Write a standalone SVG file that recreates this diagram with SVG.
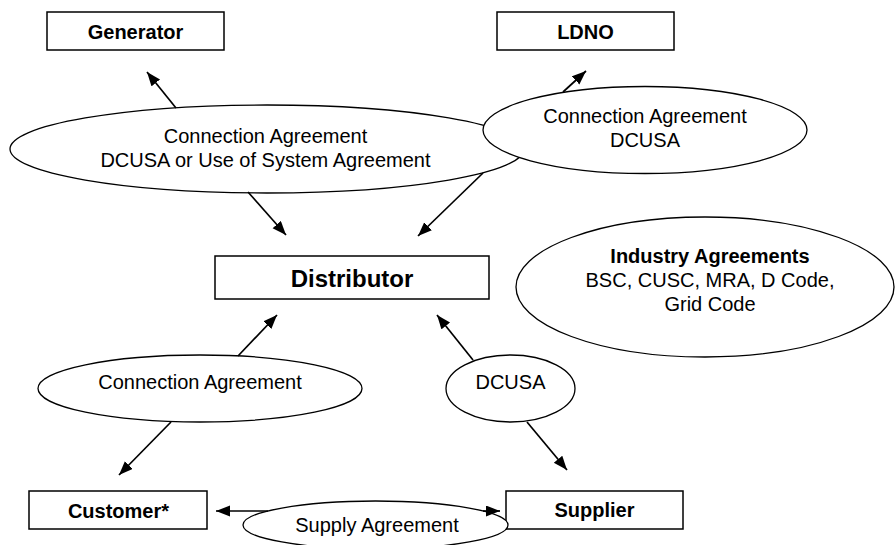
<svg xmlns="http://www.w3.org/2000/svg" width="895" height="545" viewBox="0 0 895 545">
<style>
  .box { fill: #ffffff; stroke: #000000; stroke-width: 1.5; }
  .ell { fill: #ffffff; stroke: #000000; stroke-width: 1.3; }
  .node { font-family: "Liberation Sans", Arial, sans-serif; font-size: 20px; font-weight: bold; fill: #000; text-anchor: middle; }
  .lbl { font-family: "Liberation Sans", Arial, sans-serif; font-size: 20px; fill: #000; text-anchor: middle; }
  .conn { stroke: #000000; stroke-width: 1.7; fill: none; marker-end: url(#arrow); }
</style>
<defs>
  <marker id="arrow" markerUnits="userSpaceOnUse" markerWidth="15" markerHeight="12" refX="14" refY="5.5" orient="auto">
    <path d="M0,0 L14,5.5 L0,11 Z" fill="#000000"/>
  </marker>
</defs>
<rect width="895" height="545" fill="#ffffff"/>

<g id="generator">
  <rect class="box" x="47" y="12" width="177" height="38"/>
  <text class="node" x="135.5" y="39">Generator</text>
</g>
<g id="ldno">
  <rect class="box" x="497" y="12" width="177" height="38"/>
  <text class="node" x="585.5" y="39">LDNO</text>
</g>
<g id="agreement-generator">
  <ellipse class="ell" cx="267" cy="149" rx="257" ry="44"/>
  <text class="lbl" x="265.5" y="143">Connection Agreement</text>
  <text class="lbl" x="265.5" y="167">DCUSA or Use of System Agreement</text>
</g>
<g id="agreement-ldno">
  <ellipse class="ell" cx="645" cy="130" rx="162" ry="43.5"/>
  <text class="lbl" x="645" y="123">Connection Agreement</text>
  <text class="lbl" x="645" y="147">DCUSA</text>
</g>
<g id="distributor">
  <rect class="box" x="215" y="256" width="274" height="43"/>
  <text class="node" x="352" y="287" style="font-size:24px">Distributor</text>
</g>
<g id="industry-agreements">
  <ellipse class="ell" cx="705" cy="287" rx="189" ry="70"/>
  <text class="node" x="710" y="263">Industry Agreements</text>
  <text class="lbl" x="710" y="287">BSC, CUSC, MRA, D Code,</text>
  <text class="lbl" x="710" y="311">Grid Code</text>
</g>
<g id="agreement-customer">
  <ellipse class="ell" cx="200" cy="388.5" rx="162" ry="33.5"/>
  <text class="lbl" x="200" y="389">Connection Agreement</text>
</g>
<g id="agreement-supplier">
  <ellipse class="ell" cx="510.5" cy="388.5" rx="64.5" ry="33.5"/>
  <text class="lbl" x="510.5" y="389">DCUSA</text>
</g>
<g id="customer">
  <rect class="box" x="29" y="491" width="178" height="38"/>
  <text class="node" x="118.5" y="518">Customer*</text>
</g>
<g id="supplier">
  <rect class="box" x="506" y="491" width="177" height="38"/>
  <text class="node" x="594.5" y="517">Supplier</text>
</g>
<g id="supply-agreement">
  <ellipse class="ell" cx="375.5" cy="525" rx="132.5" ry="24"/>
  <text class="lbl" x="377" y="532">Supply Agreement</text>
</g>

<g id="connectors">
  <line class="conn" x1="176" y1="108" x2="147" y2="72"/>
  <line class="conn" x1="248" y1="192" x2="286" y2="235"/>
  <line class="conn" x1="483" y1="173" x2="418" y2="236"/>
  <line class="conn" x1="563" y1="92" x2="586" y2="71"/>
  <line class="conn" x1="238" y1="356" x2="277" y2="315"/>
  <line class="conn" x1="473" y1="360" x2="437" y2="315"/>
  <line class="conn" x1="171" y1="422" x2="119" y2="475"/>
  <line class="conn" x1="527" y1="422" x2="567" y2="470"/>
  <line class="conn" x1="268" y1="511" x2="216" y2="511"/>
  <line class="conn" x1="483" y1="511" x2="500" y2="511"/>
</g>
</svg>
